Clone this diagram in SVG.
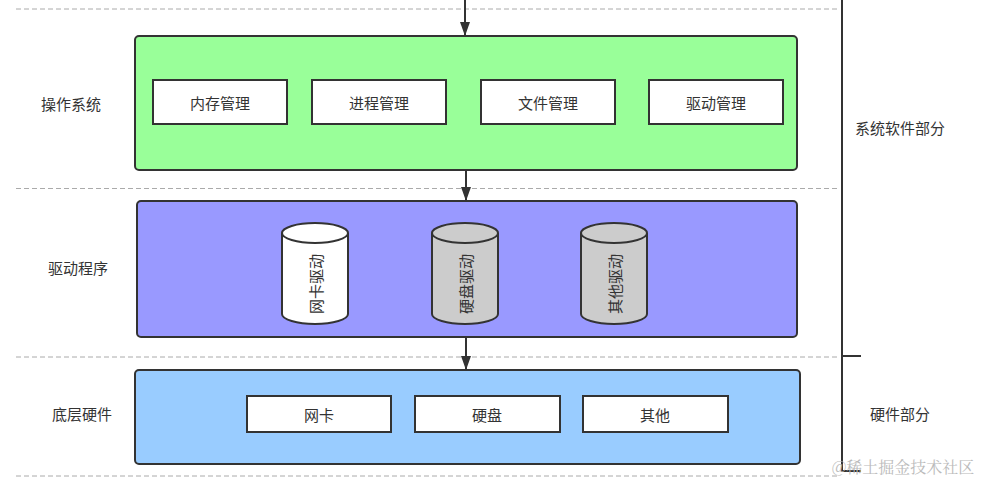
<svg xmlns="http://www.w3.org/2000/svg" width="989" height="482" viewBox="0 0 989 482">
<style>
text{font-family:"Noto Sans CJK SC","Noto Sans",sans-serif;font-size:15px;fill:#333;text-anchor:middle;dominant-baseline:central}
.dash{stroke:#aaa;stroke-width:1;stroke-dasharray:5 3;fill:none}
.layer{stroke:#333;stroke-width:2}
.box{fill:#fff;stroke:#333;stroke-width:2}
.conn{stroke:#333;stroke-width:2;fill:none}
.cyl{stroke:#333;stroke-width:2}
</style>
<defs>
<marker id="arr" viewBox="0 0 14 10" refX="13" refY="5" markerWidth="14" markerHeight="10" markerUnits="userSpaceOnUse" orient="auto">
<path d="M0,0 L14,5 L0,10 Z" fill="#333"/>
</marker>
</defs>
<rect width="989" height="482" fill="#fff"/>
<g id="separators">
<line class="dash" x1="16" y1="9" x2="840" y2="9"/>
<line class="dash" x1="16" y1="188.5" x2="840" y2="188.5"/>
<line class="dash" x1="16" y1="357" x2="840" y2="357"/>
<line class="dash" x1="16" y1="476" x2="840" y2="476"/>
</g>
<g id="bracket">
<path class="conn" d="M842,0 V471 H861"/>
<line class="conn" x1="842" y1="356" x2="861" y2="356"/>
</g>
<g id="os-layer">
<rect class="layer" x="135" y="36" width="662" height="134" rx="4" fill="#99ff99"/>
<text x="71" y="103">操作系统</text>
</g>
<g id="mem"><rect class="box" x="153" y="80" width="134" height="44"/><text x="220" y="102">内存管理</text></g>
<g id="proc"><rect class="box" x="312" y="80" width="134" height="44"/><text x="379" y="102">进程管理</text></g>
<g id="file"><rect class="box" x="481" y="80" width="134" height="44"/><text x="548" y="102">文件管理</text></g>
<g id="drvmgr"><rect class="box" x="649" y="80" width="134" height="44"/><text x="716" y="102">驱动管理</text></g>
<g id="driver-layer">
<rect class="layer" x="137" y="201" width="660" height="136" rx="4" fill="#9999ff"/>
<text x="78" y="267">驱动程序</text>
</g>
<g id="nic-drv">
<path class="cyl" fill="#fff" d="M282,233 A33,10 0 0 1 348,233 V314 A33,10 0 0 1 282,314 Z"/>
<path class="cyl" fill="none" d="M282,233 A33,10 0 0 0 348,233"/>
<text transform="translate(315,284) rotate(-90)">网卡驱动</text>
</g>
<g id="disk-drv">
<path class="cyl" fill="#cccccc" d="M432,233 A33,10 0 0 1 498,233 V314 A33,10 0 0 1 432,314 Z"/>
<path class="cyl" fill="none" d="M432,233 A33,10 0 0 0 498,233"/>
<text transform="translate(465,284) rotate(-90)">硬盘驱动</text>
</g>
<g id="other-drv">
<path class="cyl" fill="#cccccc" d="M581,233 A33,10 0 0 1 647,233 V314 A33,10 0 0 1 581,314 Z"/>
<path class="cyl" fill="none" d="M581,233 A33,10 0 0 0 647,233"/>
<text transform="translate(614,284) rotate(-90)">其他驱动</text>
</g>
<g id="hw-layer">
<rect class="layer" x="135" y="370" width="665" height="94" rx="4" fill="#99ccff"/>
<text x="82" y="413">底层硬件</text>
</g>
<g id="nic"><rect class="box" x="247" y="396" width="144" height="36"/><text x="319" y="414">网卡</text></g>
<g id="disk"><rect class="box" x="415" y="396" width="145" height="36"/><text x="487" y="414">硬盘</text></g>
<g id="other"><rect class="box" x="583" y="396" width="145" height="36"/><text x="655" y="414">其他</text></g>
<g id="side-labels">
<text x="900" y="127">系统软件部分</text>
<text x="900" y="413">硬件部分</text>
</g>
<g id="connectors">
<line class="conn" x1="465" y1="0" x2="465" y2="35" marker-end="url(#arr)"/>
<line class="conn" x1="466" y1="171" x2="466" y2="200" marker-end="url(#arr)"/>
<line class="conn" x1="466" y1="338" x2="466" y2="369" marker-end="url(#arr)"/>
</g>
<text x="903" y="466" style="font-family:'Noto Serif CJK SC','Noto Sans CJK SC',serif;font-size:16px;fill:#bbb">@稀土掘金技术社区</text>
</svg>
